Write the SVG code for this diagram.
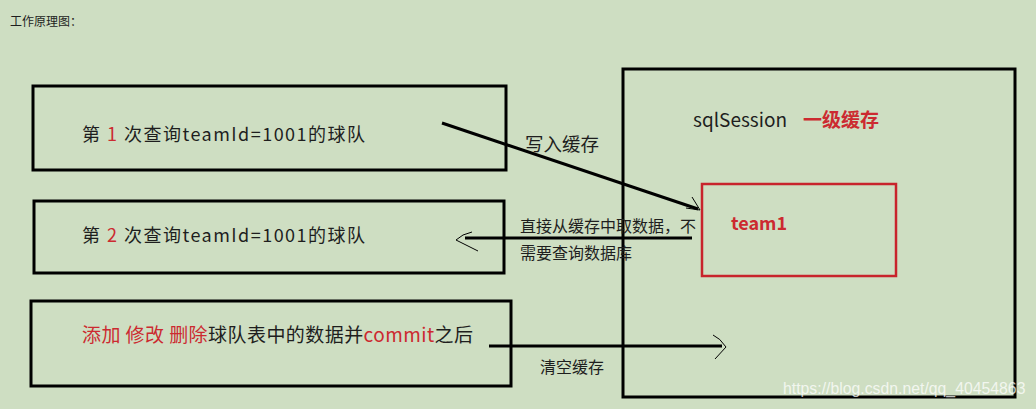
<svg xmlns="http://www.w3.org/2000/svg" width="1036" height="409" viewBox="0 0 1036 409">
<style>
.cn{font-family:"Noto Sans CJK SC","Liberation Sans",sans-serif;fill:#1e1e1e}
.red{fill:#cc2a30}
.box{fill:none;stroke:#000;stroke-width:3}
.conn{fill:none;stroke:#000;stroke-width:3}
.head{fill:none;stroke:#000;stroke-width:1}
</style>
<rect x="0" y="0" width="1036" height="409" fill="#cedec2"/>
<text class="cn" x="10" y="26" font-size="12">工作原理图：</text>
<g id="query1">
<rect class="box" x="33" y="86" width="473" height="84"/>
<text class="cn" x="82" y="141" font-size="18" textLength="283">第 <tspan class="red">1</tspan> 次查询teamId=1001的球队</text>
</g>
<g id="query2">
<rect class="box" x="34" y="201" width="470" height="72"/>
<text class="cn" x="82" y="242" font-size="18" textLength="283">第 <tspan class="red">2</tspan> 次查询teamId=1001的球队</text>
</g>
<g id="modify">
<rect class="box" x="31" y="301" width="480" height="85"/>
<text class="cn" x="82" y="342" font-size="19" textLength="391"><tspan class="red">添加 修改 删除</tspan>球队表中的数据并<tspan class="red">commit</tspan>之后</text>
</g>
<g id="sqlSession">
<rect class="box" x="623" y="69" width="392" height="328"/>
<text class="cn" x="693" y="127" font-size="19">sqlSession</text>
<text class="cn red" x="803" y="127" font-size="19" font-weight="bold">一级缓存</text>
</g>
<g id="team1">
<rect x="702" y="184" width="194" height="92" fill="none" stroke="#c8242c" stroke-width="2.5"/>
<text class="cn red" x="731" y="230" font-size="18" font-weight="bold">team1</text>
</g>
<g id="connectors">
<line class="conn" x1="442" y1="123" x2="698" y2="209"/>
<path class="head" d="M692 197 L700 210 M686 208 L700 210"/>
<text class="cn" x="525" y="151" font-size="18.5">写入缓存</text>
<line class="conn" x1="692" y1="238" x2="465" y2="238"/>
<path class="head" d="M472 232 Q462 234 456 240 L478 251"/>
<text class="cn" x="520" y="232" font-size="16">直接从缓存中取数据，不</text>
<text class="cn" x="520" y="259" font-size="16">需要查询数据库</text>
<line class="conn" x1="489" y1="346" x2="722" y2="346"/>
<path class="head" d="M713 335 Q720 338 726 347 L715 359"/>
<text class="cn" x="540" y="373" font-size="16">清空缓存</text>
</g>
<text x="783" y="394" font-family="Liberation Sans,Arial,sans-serif" font-size="15.8" fill="#ffffff" fill-opacity="0.75">https://blog.csdn.net/qq_40454863</text>
</svg>
